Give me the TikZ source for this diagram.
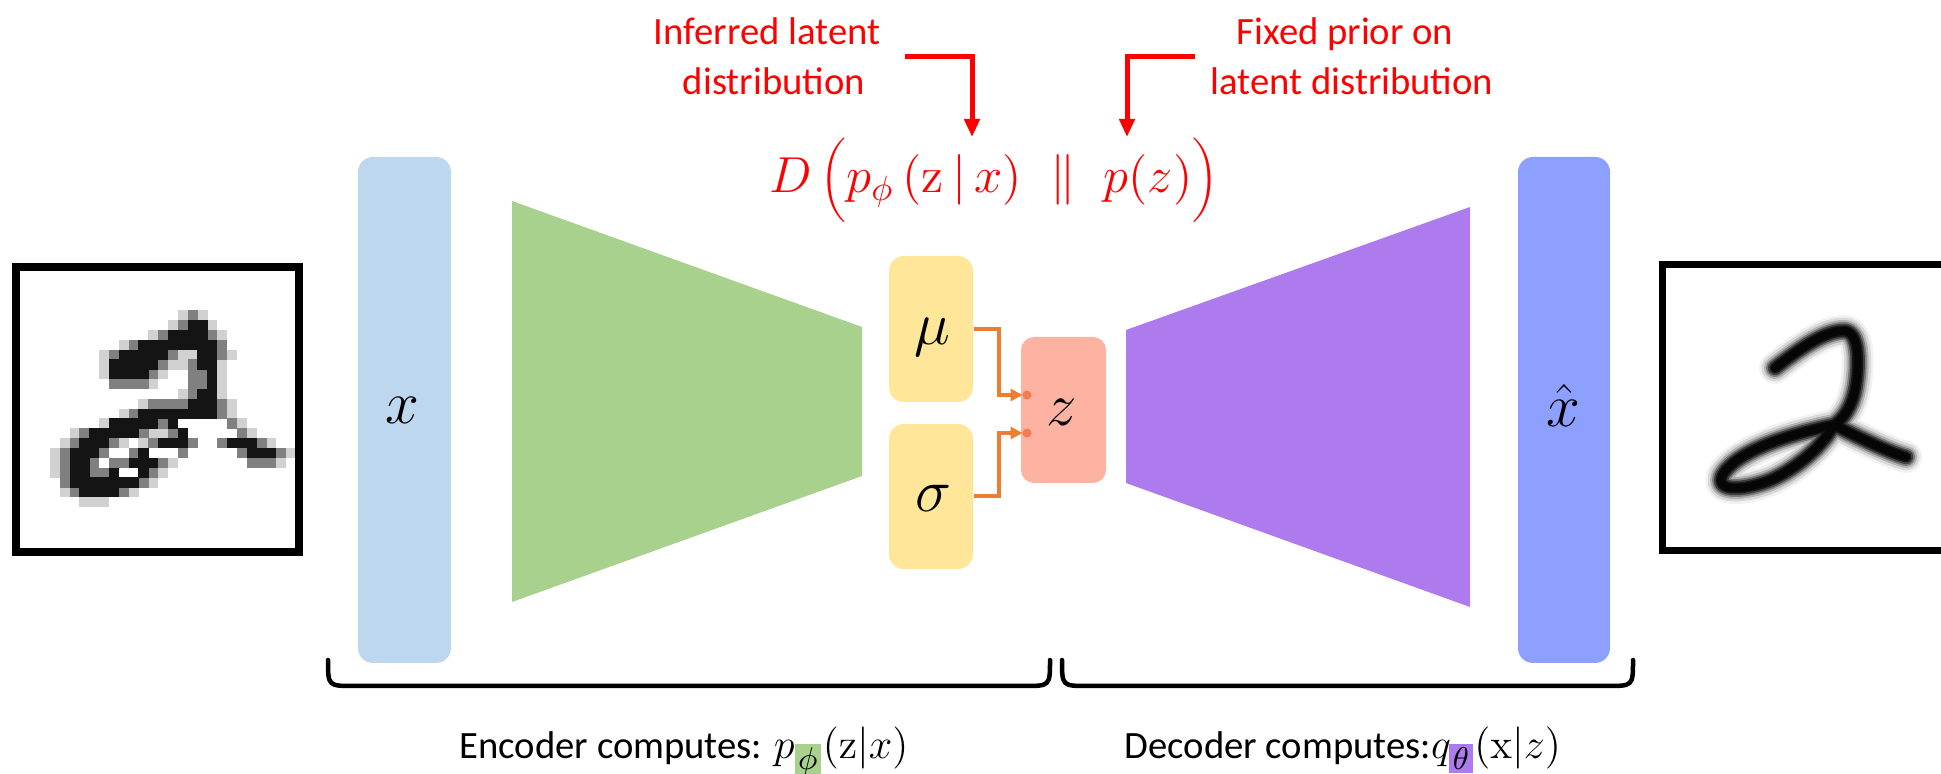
\documentclass[tikz,border=0pt]{standalone}
\usepackage[no-math]{fontspec}
\setmainfont{Carlito}
\usetikzlibrary{arrows.meta}
\definecolor{barA}{HTML}{BDD7EE}
\definecolor{encg}{HTML}{A9D18E}
\definecolor{yel}{HTML}{FFE699}
\definecolor{zc}{HTML}{FDB2A2}
\definecolor{decp}{HTML}{AD7BEE}
\definecolor{barB}{HTML}{8EA0FF}
\definecolor{orng}{HTML}{ED7D31}
\definecolor{dotc}{HTML}{F47B52}
\definecolor{redc}{HTML}{FF0000}
\newcommand\pixcell[3]{\fill[#3] ({20.5+9.83*#1},{271+9.83*#2}) rectangle ++(10.1,10.1);}
\begin{document}
\begin{tikzpicture}[x=0.1mm,y=-0.1mm,
  box/.style={rounded corners=1.5mm, inner sep=0pt, draw=none},
  lbl/.style={inner sep=0pt, font=\fontsize{19}{22}\selectfont},
  note/.style={inner sep=0pt, text=redc, font=\fontsize{11}{13}\selectfont},
  bottomtxt/.style={inner sep=0pt, font=\fontsize{11}{13}\selectfont},
  redarr/.style={draw=redc, line width=0.5mm, -{Triangle[width=1.5mm,length=1.8mm]}},
  conn/.style={draw=orng, line width=0.4mm, -{Triangle[width=1.2mm,length=1.2mm]}, shorten >=0.45mm},
  bracket/.style={draw=black, line width=0.45mm, line cap=round},
  frame/.style={draw=black, line width=0.75mm}
]
\useasboundingbox (0,0) rectangle (1941,774);

% ---- left input image (pixelated digit)
\foreach \r/\cs in {4/{16,18},5/{15,19},6/{13,20},7/{10},8/{8,16,17,21},9/{8,15,16,20},10/{8,14,20},11/{13,20},12/{16,20},13/{12,21},14/{10,21},15/{8,22},16/{5,13,14,23},17/{4,10,12,25},18/{3,27},19/{3,15,26},20/{3,14},21/{13},22/{4,11},23/{6,7,8}}
  {\foreach \c in \cs {\pixcell{\c}{\r}{black!18}}}
\foreach \r/\cs in {4/{17},5/{16},6/{14,19},7/{11,20},8/{9,15,20},9/{14,17},10/{13,17,18},11/{9,10,11,12,17,18},12/{17},13/{13,14,15,16,20},14/{11,20},15/{14,21},16/{6,12,15,22},17/{5,9,13,17,20,24},18/{4,8,11,16,22,26},19/{4,7,9,10,14,23,24,25},20/{4,7,8,13},21/{4,12},22/{5,10}}
  {\foreach \c in \cs {\pixcell{\c}{\r}{black!50}}}
\foreach \r/\cs in {5/{17,18},6/{15,16,17,18},7/{12,...,19},8/{10,...,14,18,19},9/{9,...,13,18,19},10/{9,...,12,19},11/{19},12/{18,19},13/{17,18,19},14/{12,...,19},15/{9,...,13,15,...,20},16/{7,...,11,16,...,21},17/{6,7,8,14,15,16,21,22,23},18/{5,6,7,12,...,15,23,24,25},19/{5,6,11,12,13},20/{5,6,9,...,12},21/{5,...,11},22/{6,...,9}}
  {\foreach \c in \cs {\pixcell{\c}{\r}{black!92}}}
\node[frame, inner sep=0pt, minimum width=28.3mm, minimum height=28.5mm] (inimg) at (157.5,409.5) {};

% ---- right output image (blurred digit)
\foreach \w/\o in {3.2/0.05,2.7/0.1,2.2/0.18,1.8/0.3,1.45/0.48,1.1/0.65,0.8/0.75}{
  \draw[line width=\w mm, black, opacity=\o, line cap=round, line join=round]
   (1775,368) .. controls (1798,350) and (1825,330) .. (1845,331)
   .. controls (1862,333) and (1858,375) .. (1855,390)
   .. controls (1851,408) and (1843,419) .. (1834,425)
   .. controls (1800,432) and (1740,448) .. (1723,474)
   .. controls (1712,494) and (1750,490) .. (1775,478)
   .. controls (1805,463) and (1826,440) .. (1834,425)
   .. controls (1860,438) and (1888,452) .. (1906,457);
}
\coordinate (outTL) at (1662.5,264.5);
\coordinate (outBL) at (1662.5,550.5);
\draw[frame] (1941,264.5) -- (outTL) -- (outBL) -- (1941,550.5);

% ---- encoder side
\node[box, fill=barA, minimum width=9.3mm, minimum height=50.6mm] (bar1) at (404.5,410) {};
\node[lbl] (xlab) at (402,410) {$x$};
\fill[encg] (512,201) -- (862,327) -- (862,476) -- (512,602) -- cycle;

\node[box, fill=yel, minimum width=8.4mm, minimum height=14.6mm] (mu) at (931,329) {};
\node[box, fill=yel, minimum width=8.4mm, minimum height=14.5mm] (sigma) at (931,496.5) {};
\node[lbl] (mulab) at (932,337) {$\mu$};
\node[lbl] (siglab) at (933,498) {$\sigma$};

\node[box, fill=zc, rounded corners=1.3mm, minimum width=8.5mm, minimum height=14.6mm] (z) at (1063.5,410) {};
\node[lbl] (zlab) at (1062,412) {$z$};

\coordinate (zin1) at (1027,395);
\coordinate (zin2) at (1027,433);
\draw[conn] (mu.east) -- ++(25,0) |- (zin1);
\draw[conn] (sigma.east) -- ++(25,0) |- (zin2);
\fill[dotc] (zin1) circle[radius=0.45mm];
\fill[dotc] (zin2) circle[radius=0.45mm];

% ---- decoder side
\fill[decp] (1126,330) -- (1470,207) -- (1470,607) -- (1126,483) -- cycle;
\node[box, fill=barB, minimum width=9.2mm, minimum height=50.6mm] (bar2) at (1564,410) {};
\node[lbl] (xhatlab) at (1563,405) {$\hat{x}$};

% ---- KL term and notes
\node[inner sep=0pt, anchor=base, text=redc, font=\fontsize{14}{16}\selectfont] (kl) at (994,193)
  {$D\,\biggl(p_{\phi}\,(\mathrm{z}\,|\,x)\;\parallel\;p(z)\biggr)$};
\node[note, anchor=base] (inf1) at (767,45) {Inferred latent};
\node[note, anchor=base] (inf2) at (774,95) {distribution};
\node[note, anchor=base] (fix1) at (1345,45) {Fixed prior on};
\node[note, anchor=base] (fix2) at (1352,95) {latent distribution};
\coordinate (la1) at (905,57);
\coordinate (la2) at (972,137);
\coordinate (ra1) at (1195,57);
\coordinate (ra2) at (1127,137);
\draw[redarr] (la1) -| (la2);
\draw[redarr] (ra1) -| (ra2);

% ---- brackets and captions
\draw[bracket] (328,660) .. controls (328,686) .. (354,686) -- (1024,686) .. controls (1050,686) .. (1050,660);
\draw[bracket] (1062,660) .. controls (1062,686) .. (1088,686) -- (1607,686) .. controls (1633,686) .. (1633,660);
\node[bottomtxt, anchor=base west] (enc) at (459,759)
  {Encoder computes: {\fontsize{13}{15}\selectfont$p_{\mbox{\fboxsep=1pt\colorbox{encg}{$\scriptstyle\phi$}}}(\mathrm{z}|x)$}};
\node[bottomtxt, anchor=base west] (dec) at (1124,759)
  {Decoder computes:{\fontsize{13}{15}\selectfont$q_{\mbox{\fboxsep=1pt\colorbox{decp}{$\scriptstyle\theta$}}}(\mathrm{x}|z)$}};
\end{tikzpicture}
\end{document}
